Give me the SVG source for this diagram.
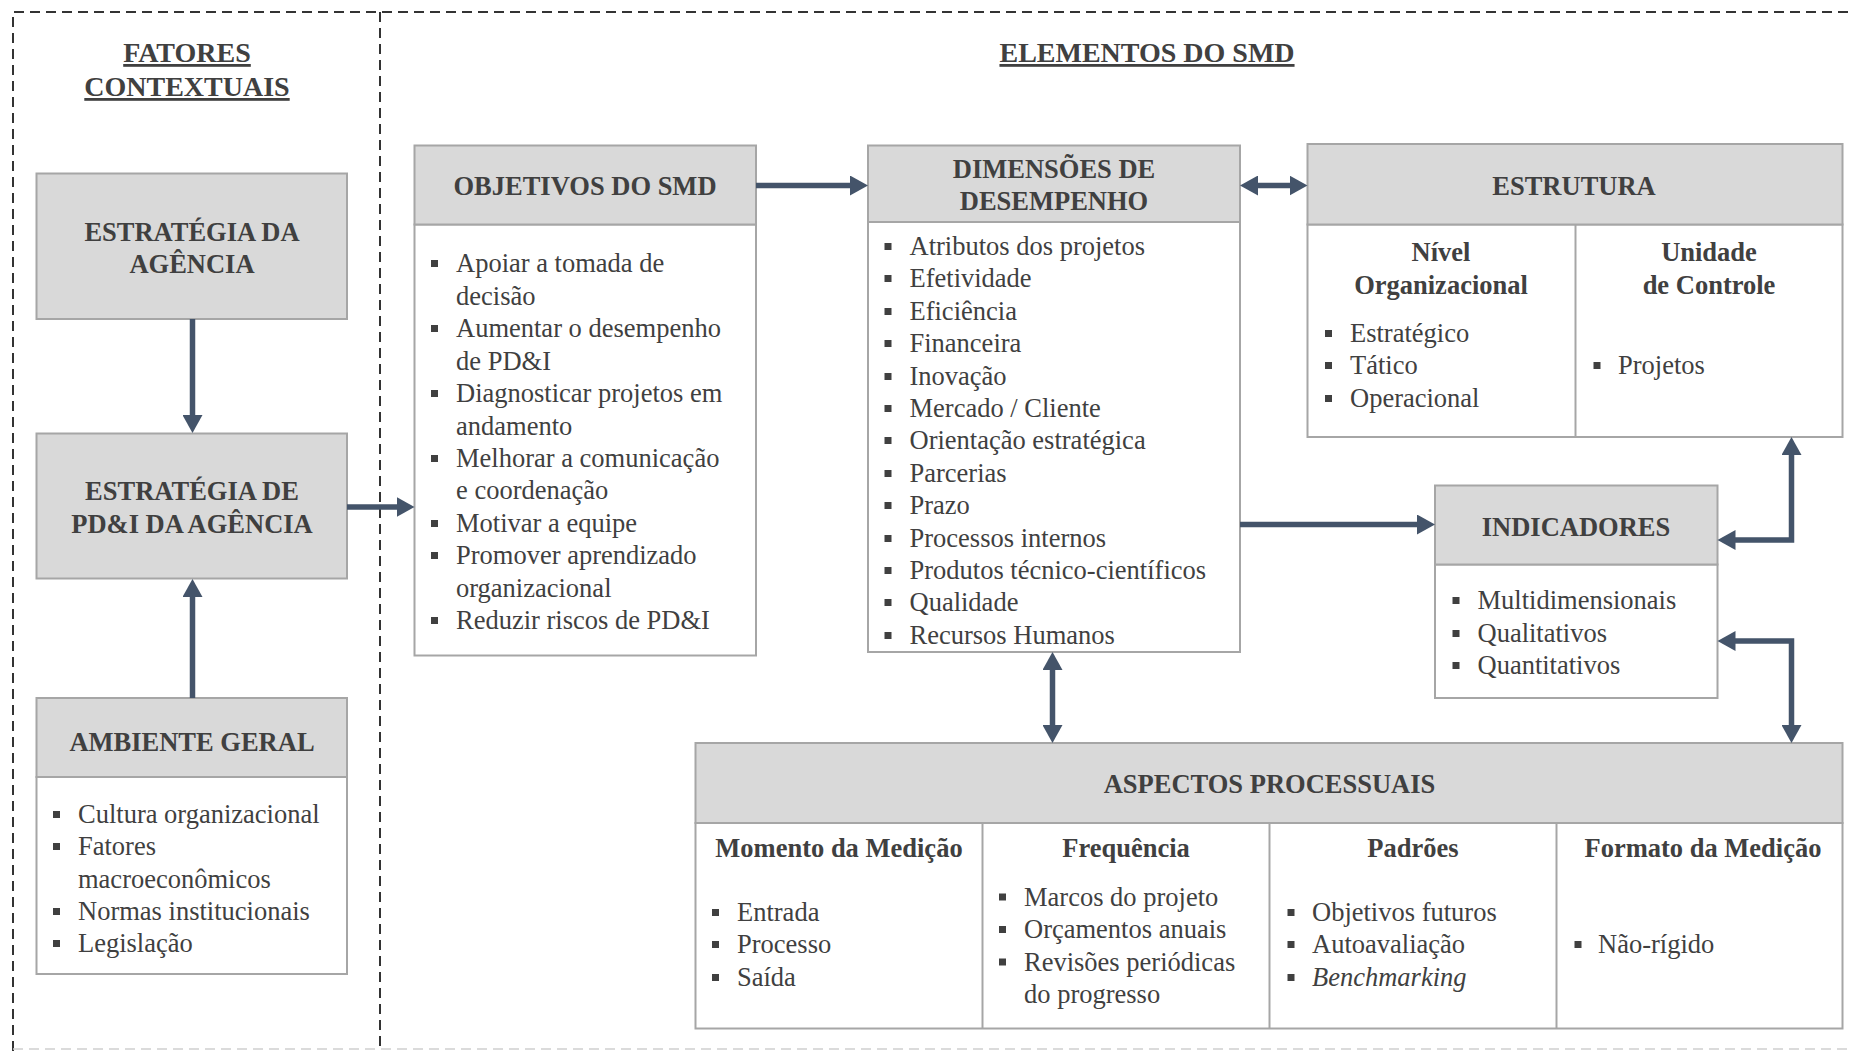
<svg xmlns="http://www.w3.org/2000/svg" width="1852" height="1051" viewBox="0 0 1852 1051">
<style>
text{font-family:"Liberation Serif","Times New Roman",serif;fill:#404040;font-size:26.5px}
.h{font-weight:bold;text-anchor:middle}
.t{font-weight:bold;text-anchor:middle;font-size:28px;text-decoration:underline}
.hd{fill:#d9d9d9;stroke:#a6a6a6;stroke-width:2}
.bd{fill:#ffffff;stroke:#a6a6a6;stroke-width:2}
.dv{stroke:#a6a6a6;stroke-width:2}
.ar{fill:none;stroke:#44546a;stroke-width:5.5}
.dash{fill:none;stroke:#333333;stroke-width:2;stroke-dasharray:10 6}
.b{fill:#404040}
</style>
<defs>
<marker id="ah" markerWidth="20" markerHeight="20" refX="2" refY="10" orient="auto-start-reverse" markerUnits="userSpaceOnUse">
<path d="M0,0 L18,10 L0,20 z" fill="#44546a"/>
</marker>
<rect id="bl" width="7" height="7" class="b"/>
</defs>
<rect width="1852" height="1051" fill="#ffffff"/>

<g id="frame">
<path class="dash" d="M13,1051 V12 H1852"/>
<path class="dash" d="M380,12 V1051" stroke-dasharray="8 6"/>
<path d="M13,1049 H1852" fill="none" stroke="#cfcfcf" stroke-width="1.5" stroke-dasharray="10 6"/>
</g>

<g id="titles">
<text class="t" x="187" y="62">FATORES</text>
<text class="t" x="187" y="96">CONTEXTUAIS</text>
<text class="t" x="1147" y="62">ELEMENTOS DO SMD</text>
</g>

<g id="estrategia-agencia">
<rect class="hd" x="36.5" y="173.5" width="310.5" height="145.5"/>
<text class="h" x="192" y="241">ESTRATÉGIA DA</text>
<text class="h" x="192" y="273">AGÊNCIA</text>
</g>

<g id="estrategia-pdi">
<rect class="hd" x="36.5" y="433.5" width="310.5" height="145"/>
<text class="h" x="192" y="500">ESTRATÉGIA DE</text>
<text class="h" x="192" y="533">PD&amp;I DA AGÊNCIA</text>
</g>

<g id="ambiente-geral">
<rect class="bd" x="36.5" y="777" width="310.5" height="197"/>
<rect class="hd" x="36.5" y="698" width="310.5" height="79"/>
<text class="h" x="192" y="751">AMBIENTE GERAL</text>
<use href="#bl" x="53" y="811"/><text x="78" y="823">Cultura organizacional</text>
<use href="#bl" x="53" y="843"/><text x="78" y="855">Fatores</text>
<text x="78" y="888">macroeconômicos</text>
<use href="#bl" x="53" y="908"/><text x="78" y="920">Normas institucionais</text>
<use href="#bl" x="53" y="940"/><text x="78" y="952">Legislação</text>
</g>

<g id="objetivos">
<rect class="bd" x="414.5" y="224.5" width="341.5" height="431"/>
<rect class="hd" x="414.5" y="145.5" width="341.5" height="79"/>
<text class="h" x="585" y="194.5">OBJETIVOS DO SMD</text>
<use href="#bl" x="431" y="260"/><text x="456" y="272">Apoiar a tomada de</text>
<text x="456" y="304.5">decisão</text>
<use href="#bl" x="431" y="325"/><text x="456" y="337">Aumentar o desempenho</text>
<text x="456" y="369.5">de PD&amp;I</text>
<use href="#bl" x="431" y="390"/><text x="456" y="402">Diagnosticar projetos em</text>
<text x="456" y="434.5">andamento</text>
<use href="#bl" x="431" y="455"/><text x="456" y="467">Melhorar a comunicação</text>
<text x="456" y="499">e coordenação</text>
<use href="#bl" x="431" y="520"/><text x="456" y="532">Motivar a equipe</text>
<use href="#bl" x="431" y="552"/><text x="456" y="564">Promover aprendizado</text>
<text x="456" y="596.5">organizacional</text>
<use href="#bl" x="431" y="617"/><text x="456" y="629">Reduzir riscos de PD&amp;I</text>
</g>

<g id="dimensoes">
<rect class="bd" x="868" y="222" width="372" height="430"/>
<rect class="hd" x="868" y="145.5" width="372" height="76.5"/>
<text class="h" x="1054" y="178">DIMENSÕES DE</text>
<text class="h" x="1054" y="210">DESEMPENHO</text>
<use href="#bl" x="884.5" y="243"/><text x="909.5" y="255">Atributos dos projetos</text>
<use href="#bl" x="884.5" y="275"/><text x="909.5" y="287">Efetividade</text>
<use href="#bl" x="884.5" y="308"/><text x="909.5" y="320">Eficiência</text>
<use href="#bl" x="884.5" y="340"/><text x="909.5" y="352">Financeira</text>
<use href="#bl" x="884.5" y="373"/><text x="909.5" y="385">Inovação</text>
<use href="#bl" x="884.5" y="405"/><text x="909.5" y="417">Mercado / Cliente</text>
<use href="#bl" x="884.5" y="437"/><text x="909.5" y="449">Orientação estratégica</text>
<use href="#bl" x="884.5" y="470"/><text x="909.5" y="482">Parcerias</text>
<use href="#bl" x="884.5" y="502"/><text x="909.5" y="514">Prazo</text>
<use href="#bl" x="884.5" y="535"/><text x="909.5" y="547">Processos internos</text>
<use href="#bl" x="884.5" y="567"/><text x="909.5" y="579">Produtos técnico-científicos</text>
<use href="#bl" x="884.5" y="599"/><text x="909.5" y="611">Qualidade</text>
<use href="#bl" x="884.5" y="632"/><text x="909.5" y="644">Recursos Humanos</text>
</g>

<g id="estrutura">
<rect class="bd" x="1307.5" y="224.5" width="535" height="212.5"/>
<rect class="hd" x="1307.5" y="144" width="535" height="80.5"/>
<line class="dv" x1="1575.5" y1="224.5" x2="1575.5" y2="437"/>
<text class="h" x="1574" y="194.5">ESTRUTURA</text>
<text class="h" x="1441" y="260.5">Nível</text>
<text class="h" x="1441" y="293.5">Organizacional</text>
<text class="h" x="1709" y="260.5">Unidade</text>
<text class="h" x="1709" y="293.5">de Controle</text>
<use href="#bl" x="1325" y="330"/><text x="1350" y="342">Estratégico</text>
<use href="#bl" x="1325" y="362"/><text x="1350" y="374">Tático</text>
<use href="#bl" x="1325" y="395"/><text x="1350" y="407">Operacional</text>
<use href="#bl" x="1593.5" y="362"/><text x="1618" y="374">Projetos</text>
</g>

<g id="indicadores">
<rect class="bd" x="1435" y="564.5" width="282.5" height="133.5"/>
<rect class="hd" x="1435" y="485.5" width="282.5" height="79"/>
<text class="h" x="1576" y="536">INDICADORES</text>
<use href="#bl" x="1452.5" y="597"/><text x="1477.5" y="609">Multidimensionais</text>
<use href="#bl" x="1452.5" y="630"/><text x="1477.5" y="642">Qualitativos</text>
<use href="#bl" x="1452.5" y="662"/><text x="1477.5" y="674">Quantitativos</text>
</g>

<g id="aspectos">
<rect class="bd" x="695.5" y="823" width="1147" height="205.5"/>
<rect class="hd" x="695.5" y="743" width="1147" height="80"/>
<line class="dv" x1="982.5" y1="823" x2="982.5" y2="1028.5"/>
<line class="dv" x1="1269.5" y1="823" x2="1269.5" y2="1028.5"/>
<line class="dv" x1="1556.5" y1="823" x2="1556.5" y2="1028.5"/>
<text class="h" x="1269.5" y="793">ASPECTOS PROCESSUAIS</text>
<text class="h" x="839" y="857">Momento da Medição</text>
<text class="h" x="1126" y="857">Frequência</text>
<text class="h" x="1413" y="857">Padrões</text>
<text class="h" x="1703" y="857">Formato da Medição</text>
<use href="#bl" x="712" y="909"/><text x="737" y="921">Entrada</text>
<use href="#bl" x="712" y="941"/><text x="737" y="953">Processo</text>
<use href="#bl" x="712" y="974"/><text x="737" y="986">Saída</text>
<use href="#bl" x="999" y="893.5"/><text x="1024" y="905.5">Marcos do projeto</text>
<use href="#bl" x="999" y="926"/><text x="1024" y="938">Orçamentos anuais</text>
<use href="#bl" x="999" y="958.5"/><text x="1024" y="970.5">Revisões periódicas</text>
<text x="1024" y="1003">do progresso</text>
<use href="#bl" x="1287.5" y="909"/><text x="1312" y="921">Objetivos futuros</text>
<use href="#bl" x="1287.5" y="941"/><text x="1312" y="953">Autoavaliação</text>
<use href="#bl" x="1287.5" y="974"/><text x="1312" y="986" font-style="italic">Benchmarking</text>
<use href="#bl" x="1574.5" y="941"/><text x="1598" y="953">Não-rígido</text>
</g>

<g id="connectors">
<path class="ar" d="M192.5,319 V417" marker-end="url(#ah)"/>
<path class="ar" d="M192.5,698 V595" marker-end="url(#ah)"/>
<path class="ar" d="M347,507 H398.5" marker-end="url(#ah)"/>
<path class="ar" d="M756,185.5 H852" marker-end="url(#ah)"/>
<path class="ar" d="M1256,185.5 H1291.5" marker-start="url(#ah)" marker-end="url(#ah)"/>
<path class="ar" d="M1240,524.5 H1419" marker-end="url(#ah)"/>
<path class="ar" d="M1733.5,540 H1791.5 V453" marker-start="url(#ah)" marker-end="url(#ah)"/>
<path class="ar" d="M1733.5,641 H1791.5 V727" marker-start="url(#ah)" marker-end="url(#ah)"/>
<path class="ar" d="M1052.5,668 V727" marker-start="url(#ah)" marker-end="url(#ah)"/>
</g>
</svg>
